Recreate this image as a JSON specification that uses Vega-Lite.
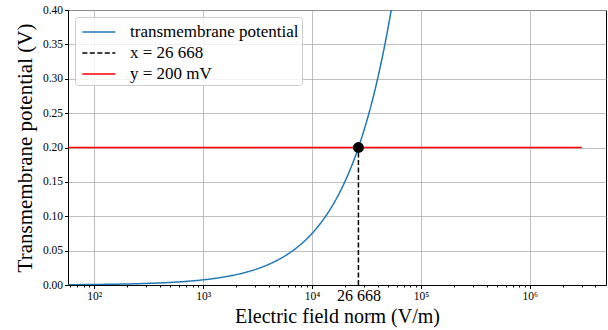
{
  "$schema": "https://vega.github.io/schema/vega-lite/v6.json",
  "width": 538,
  "height": 275,
  "autosize": {"type": "none"},
  "padding": {"left": 68, "top": 10, "right": 2, "bottom": 45},
  "background": "white",
  "config": {
    "font": "Liberation Serif",
    "view": {"stroke": "black", "strokeWidth": 1},
    "axis": {
      "domainColor": "black",
      "tickColor": "black",
      "labelColor": "black",
      "titleColor": "black",
      "labelFont": "Liberation Serif",
      "titleFont": "Liberation Serif",
      "titleFontWeight": "normal",
      "gridColor": "#b0b0b0",
      "gridWidth": 0.8
    }
  },
  "datasets": {
    "curve": [
      {"E": 56.23, "V": 0.000422},
      {"E": 63.10, "V": 0.000473},
      {"E": 79.43, "V": 0.000596},
      {"E": 100, "V": 0.000750},
      {"E": 125.9, "V": 0.000944},
      {"E": 158.5, "V": 0.001189},
      {"E": 199.5, "V": 0.001496},
      {"E": 251.2, "V": 0.001884},
      {"E": 316.2, "V": 0.002372},
      {"E": 398.1, "V": 0.002986},
      {"E": 501.2, "V": 0.003759},
      {"E": 631.0, "V": 0.004732},
      {"E": 794.3, "V": 0.005957},
      {"E": 1000, "V": 0.0075},
      {"E": 1258.9, "V": 0.009441},
      {"E": 1584.9, "V": 0.011886},
      {"E": 1995.3, "V": 0.014964},
      {"E": 2511.9, "V": 0.018838},
      {"E": 3162.3, "V": 0.023716},
      {"E": 3981.1, "V": 0.029857},
      {"E": 5011.9, "V": 0.037587},
      {"E": 6309.6, "V": 0.047319},
      {"E": 7943.3, "V": 0.059572},
      {"E": 10000, "V": 0.074996},
      {"E": 11220, "V": 0.084146},
      {"E": 12589, "V": 0.094415},
      {"E": 14125, "V": 0.105934},
      {"E": 15849, "V": 0.118862},
      {"E": 17783, "V": 0.133366},
      {"E": 19953, "V": 0.149640},
      {"E": 22387, "V": 0.167896},
      {"E": 25119, "V": 0.188383},
      {"E": 26668, "V": 0.2},
      {"E": 28184, "V": 0.211373},
      {"E": 31623, "V": 0.237161},
      {"E": 35481, "V": 0.266094},
      {"E": 39811, "V": 0.298567},
      {"E": 44668, "V": 0.334993},
      {"E": 50119, "V": 0.375875},
      {"E": 56234, "V": 0.421734},
      {"E": 63096, "V": 0.473196}
    ],
    "hline": [
      {"E": 57.5, "V": 0.2},
      {"E": 3000000, "V": 0.2}
    ],
    "vline": [
      {"E": 26668, "V": 0.0},
      {"E": 26668, "V": 0.2}
    ],
    "dot": [
      {"E": 26668, "V": 0.2}
    ]
  },
  "encoding": {
    "x": {
      "field": "E",
      "type": "quantitative",
      "scale": {"type": "log", "domain": [57.5, 5000000], "nice": false},
      "axis": {
        "title": "Electric field norm (V/m)",
        "titleFont": "Liberation Serif",
        "titleFontSize": 20,
        "titlePadding": 3,
        "labelFont": "Liberation Serif",
        "values": [60, 70, 80, 90, 100, 200, 300, 400, 500, 600, 700, 800, 900, 1000, 2000, 3000, 4000, 5000, 6000, 7000, 8000, 9000, 10000, 20000, 26668, 30000, 40000, 50000, 60000, 70000, 80000, 90000, 100000, 200000, 300000, 400000, 500000, 600000, 700000, 800000, 900000, 1000000, 2000000, 3000000, 4000000],
        "labelExpr": "datum.value == 100 ? '10²' : datum.value == 1000 ? '10³' : datum.value == 10000 ? '10⁴' : datum.value == 100000 ? '10⁵' : datum.value == 1000000 ? '10⁶' : datum.value == 26668 ? '26 668' : ''",
        "labelFontSize": {"condition": {"test": "datum.value == 26668", "value": 16}, "value": 11.5},
        "labelPadding": {"condition": {"test": "datum.value == 26668", "value": 0}, "value": 2},
        "labelFlush": false,
        "labelOverlap": false,
        "tickSize": {"condition": {"test": "datum.value == 100 || datum.value == 1000 || datum.value == 10000 || datum.value == 100000 || datum.value == 1000000", "value": 3.5}, "value": 2},
        "tickOpacity": {"condition": {"test": "datum.value == 26668", "value": 0}, "value": 1},
        "gridOpacity": {"condition": {"test": "datum.value == 100 || datum.value == 1000 || datum.value == 10000 || datum.value == 100000 || datum.value == 1000000", "value": 1}, "value": 0}
      }
    },
    "y": {
      "field": "V",
      "type": "quantitative",
      "scale": {"domain": [0, 0.4], "nice": false, "zero": false},
      "axis": {
        "title": "Transmembrane potential (V)",
        "titleFont": "Liberation Serif",
        "titleFontSize": 21,
        "titlePadding": 7,
        "labelFont": "Liberation Serif",
        "values": [0, 0.05, 0.1, 0.15, 0.2, 0.25, 0.3, 0.35, 0.4],
        "tickCount": 9,
        "format": ".2f",
        "labelFontSize": 11.5,
        "labelOverlap": false,
        "labelFlush": false,
        "tickSize": 3.5,
        "labelPadding": 2
      }
    }
  },
  "layer": [
    {
      "data": {"name": "hline"},
      "transform": [{"calculate": "'y = 200 mV'", "as": "series"}],
      "mark": {"type": "line", "strokeWidth": 1.5, "clip": true},
      "encoding": {
        "color": {"field": "series", "type": "nominal"},
        "strokeDash": {"field": "series", "type": "nominal"}
      }
    },
    {
      "data": {"name": "vline"},
      "transform": [{"calculate": "'x = 26 668'", "as": "series"}],
      "mark": {"type": "line", "strokeWidth": 1.5, "clip": true},
      "encoding": {
        "color": {"field": "series", "type": "nominal"},
        "strokeDash": {"field": "series", "type": "nominal"}
      }
    },
    {
      "data": {"name": "curve"},
      "transform": [{"calculate": "'transmembrane potential'", "as": "series"}],
      "mark": {"type": "line", "strokeWidth": 1.5, "clip": true, "interpolate": "monotone"},
      "encoding": {
        "color": {
          "field": "series",
          "type": "nominal",
          "scale": {
            "domain": ["transmembrane potential", "x = 26 668", "y = 200 mV"],
            "range": ["#1f77b4", "black", "red"]
          },
          "legend": {
            "title": null,
            "orient": "top-left",
            "offset": 7,
            "padding": 3,
            "fillColor": "rgba(255,255,255,0.8)",
            "strokeColor": "#cccccc",
            "cornerRadius": 3,
            "symbolType": "M-0.7,0H2.3",
            "symbolSize": 484,
            "symbolStrokeWidth": 1.5,
            "labelFontSize": 17,
            "labelFont": "Liberation Serif",
            "labelColor": "black",
            "labelOffset": 28,
            "labelLimit": 400,
            "rowPadding": 1
          }
        },
        "strokeDash": {
          "field": "series",
          "type": "nominal",
          "scale": {
            "domain": ["transmembrane potential", "x = 26 668", "y = 200 mV"],
            "range": [[1, 0], [5, 2.5], [1, 0]]
          }
        }
      }
    },
    {
      "data": {"name": "dot"},
      "mark": {"type": "point", "filled": true, "color": "black", "size": 120, "opacity": 1}
    }
  ]
}
